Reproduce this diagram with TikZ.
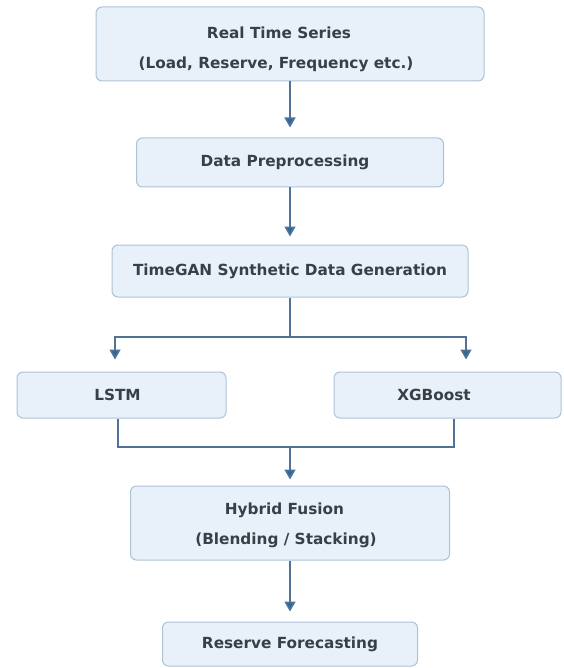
\documentclass[tikz,border=0pt]{standalone}
\usepackage{fontspec}
\setmainfont{DejaVu Sans}
\usetikzlibrary{arrows.meta}
\definecolor{boxfill}{HTML}{E8F1FA}
\definecolor{boxline}{HTML}{AEC2D6}
\definecolor{conn}{HTML}{4E7397}
\definecolor{tip}{HTML}{2F679B}
\definecolor{txt}{HTML}{3A3F47}
\tikzset{
  box/.style={draw=boxline, line width=1pt, fill=boxfill, rounded corners=6pt,
    text=txt, font=\fontsize{15.3}{30}\selectfont\bfseries, align=center, inner sep=0pt},
  conline/.style={draw=conn, line width=1.6pt},
  conarrow/.style={conline, -{Triangle[width=11pt,length=10pt,fill=tip]}}
}
\begin{document}
\begin{tikzpicture}[x=1pt,y=-1pt]
\useasboundingbox[fill=white] (0,0) rectangle (563,668);
\node[box, minimum width=388pt, minimum height=74pt] (b1) at (290,44)
  {\rule{0pt}{22pt}Real Time Series\hspace*{22pt}\\(Load, Reserve, Frequency etc.)\hspace*{28pt}};
\node[box, minimum width=307pt, minimum height=49pt] (b2) at (290,162.5)
  {Data Preprocessing\hspace*{10pt}};
\node[box, minimum width=356pt, minimum height=52pt] (b3) at (290,271)
  {TimeGAN Synthetic Data Generation};
\node[box, minimum width=209pt, minimum height=46pt] (lstm) at (121.5,395)
  {LSTM\hspace*{8pt}};
\node[box, minimum width=227pt, minimum height=46pt] (xgb) at (447.5,395)
  {XGBoost\hspace*{27pt}};
\node[box, minimum width=319pt, minimum height=74pt] (hyb) at (290,523)
  {\rule{0pt}{16pt}Hybrid Fusion\hspace*{11pt}\\(Blending / Stacking)\hspace*{8pt}};
\node[box, minimum width=255pt, minimum height=44pt] (res) at (290,644)
  {Reserve Forecasting};
\coordinate (sp) at (290,337);
\coordinate (mg) at (290,447);
\draw[conarrow, shorten >=10pt] (b1.south) -- (b2.north);
\draw[conarrow, shorten >=8pt] (b2.south) -- (b3.north);
\draw[conline] (b3.south) -- (sp);
\draw[conarrow, shorten >=12pt] (sp) -| ([xshift=-6.5pt]lstm.north);
\draw[conarrow, shorten >=12pt] (sp) -| ([xshift=18.5pt]xgb.north);
\draw[conline] ([xshift=-3.5pt]lstm.south) |- (mg);
\draw[conline] ([xshift=6.5pt]xgb.south) |- (mg);
\draw[conarrow, shorten >=6pt] (mg) -- (hyb.north);
\draw[conarrow, shorten >=10pt] (hyb.south) -- (res.north);
\end{tikzpicture}
\end{document}
